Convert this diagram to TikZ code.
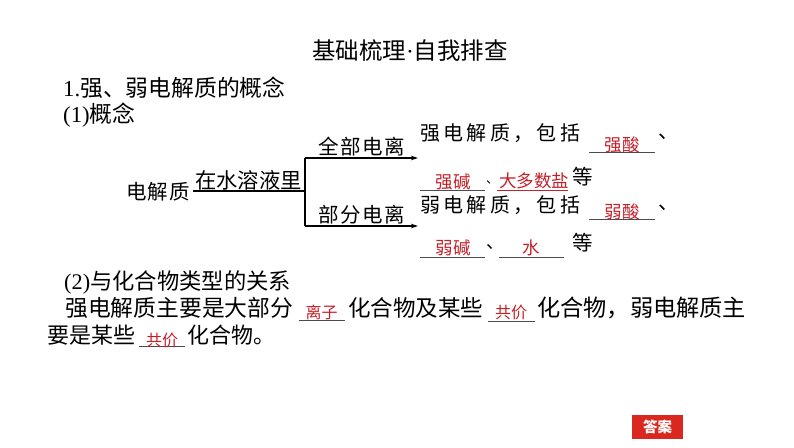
\documentclass[tikz,border=0pt]{standalone}
\usepackage{fontspec}
\setmainfont{Noto Sans CJK SC}
\newfontfamily\lat{Liberation Serif}
\usetikzlibrary{arrows.meta}
\definecolor{ansred}{RGB}{196,32,40}
\definecolor{btnred}{RGB}{218,40,30}
\newcommand{\fs}[1]{\fontsize{#1}{#1}\selectfont}
\newcommand{\gp}{\hspace{3.3pt}}
\newcommand{\dun}{\makebox[7pt][l]{、}}
\begin{document}
\begin{tikzpicture}[x=1pt,y=-1pt,
  txt/.style={inner sep=0pt, anchor=west, font=\fs{22.8}},
  dtxt/.style={inner sep=0pt, anchor=west, font=\fs{20.5}},
  ans/.style={inner sep=0pt, text=ansred, font=\fs{17.5}},
  ans2/.style={inner sep=0pt, text=ansred, font=\fs{16}},
  blank/.style={draw=black!70, line width=0.8pt},
  conn/.style={draw=black, line width=1.1pt},
  arr/.style={conn, -{Stealth[length=7pt,width=4.5pt]}}]
\useasboundingbox (0,0) rectangle (794,447);

% title and headings
\node[inner sep=0pt, font=\fs{23.5}] (title) at (410,51) {基础梳理{\lat·}自我排查};
\node[txt] (h1) at (63,88) {{\lat 1.}强、弱电解质的概念};
\node[txt] (h11) at (63,115) {{\lat (1)}概念};

% diagram
\node[dtxt] (dj) at (126,192) {电\hspace{1pt}解\hspace{1pt}质};
\node[inner sep=0pt, anchor=west, font=\fs{21.3}] (water) at (195,180) {在水溶液里};
\coordinate (u0) at (193,191);
\coordinate (br) at (305,191);
\coordinate (bt) at (305,158);
\coordinate (bb) at (305,226);
\coordinate (et) at (418,158);
\coordinate (eb) at (418,226);
\draw[conn] (u0) -- (br);
\draw[conn] (bt) -- (bb);
\draw[arr] (bt) -- (et);
\draw[arr] (bb) -- (eb);
\node[dtxt] (all) at (318,147) {全\hspace{1.5pt}部\hspace{1.5pt}电\hspace{1.5pt}离};
\node[dtxt] (part) at (318,215) {部\hspace{1.5pt}分\hspace{1.5pt}电\hspace{1.5pt}离};

% strong electrolytes
\node[dtxt, font=\fs{20}] (strong) at (420,133) {强\gp 电\gp 解\gp 质\gp ，\gp 包\gp 括};
\draw[blank] (589,152) -- (655,152);
\node[ans] (a1) at (622,145) {强酸};
\node[dtxt] (c1) at (658,137) {\dun};
\draw[blank] (420,190) -- (485,190);
\node[ans] (a2) at (453,182) {强碱};
\node[dtxt, font=\fs{12.5}] (c2) at (486,182) {、};
\node[ans, font=\fs{17.5}] (a3) at (534,181) {大多数盐};
\draw[draw=ansred, line width=0.8pt] (497,190) -- (568,190);
\node[dtxt] (deng1) at (572,177) {等};

% weak electrolytes
\node[dtxt, font=\fs{20}] (weak) at (420,205) {弱\gp 电\gp 解\gp 质\gp ，\gp 包\gp 括};
\draw[blank] (589,219) -- (655,219);
\node[ans] (b1) at (622,212) {弱酸};
\node[dtxt] (c3) at (658,208) {\dun};
\draw[blank] (420,257) -- (485,257);
\node[ans] (b2) at (453,248) {弱碱};
\node[dtxt, font=\fs{18}] (c4) at (486,247) {\dun};
\draw[blank] (499,257) -- (564,257);
\node[ans] (b3) at (531,248) {水};
\node[dtxt] (deng2) at (572,243) {等};

% section (2)
\node[txt, font=\fs{22.3}] (h12) at (64,282) {{\lat (2)}与化合物类型的关系};
\node[txt] (l1a) at (65,308) {强电解质主要是大部分};
\draw[blank] (299,320) -- (345,320);
\node[ans2] (r1) at (321.5,312) {离子};
\node[txt, font=\fs{22.5}] (l1b) at (348,308) {化合物及某些};
\draw[blank] (488,321) -- (535,321);
\node[ans2] (r2) at (511,312) {共价};
\node[txt, font=\fs{23.2}] (l1c) at (537,308) {化合物，弱电解质主};
\node[txt, font=\fs{22}] (l2a) at (47,335) {要是某些};
\draw[blank] (139,346) -- (185,346);
\node[ans2] (r3) at (162,340) {共价};
\node[txt, font=\fs{22}] (l2b) at (187,335) {化合物。};

% answer button
\node[fill=btnred, text=white, font=\fs{14.5}\bfseries, minimum width=51pt, minimum height=24pt, inner sep=0pt] (btn) at (657.5,427) {答案};
\end{tikzpicture}
\end{document}
